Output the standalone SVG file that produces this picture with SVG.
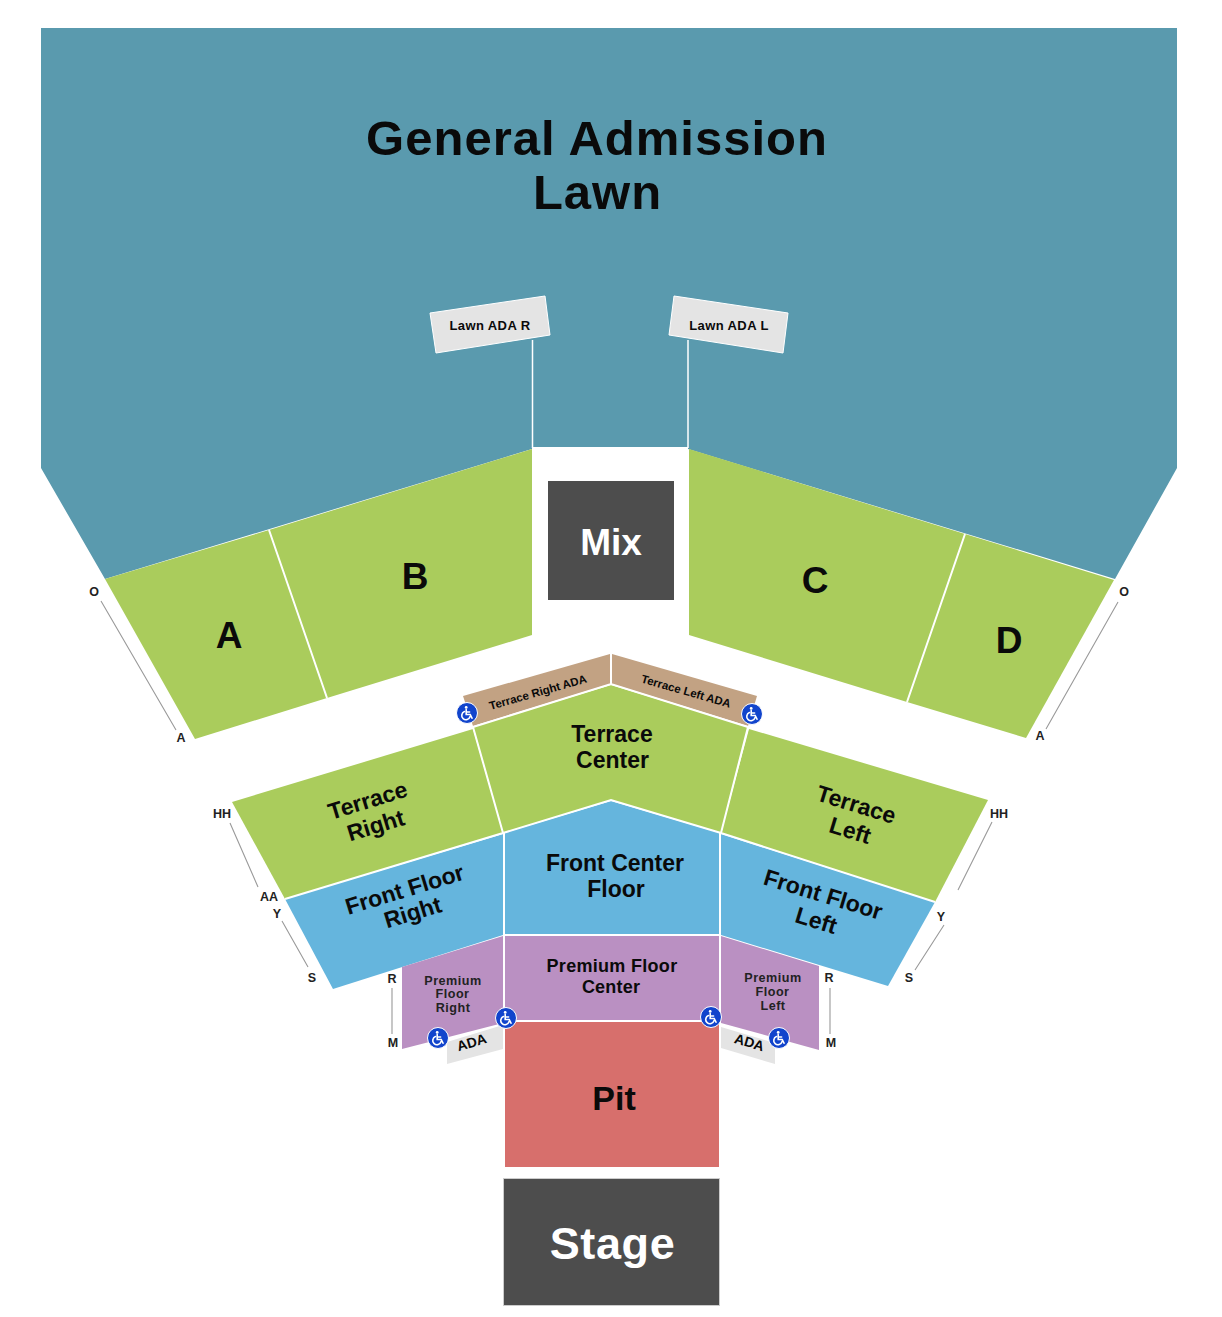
<svg xmlns="http://www.w3.org/2000/svg" width="1222" height="1317" viewBox="0 0 1222 1317">
<style>
text{font-family:"Liberation Sans",Arial,sans-serif;font-weight:700;fill:#0a0a0a;text-anchor:middle}
.lawn{fill:#5a9aae}.green{fill:#aacc5c}.blue{fill:#65b5dd}.purple{fill:#ba90c2}.tan{fill:#c2a283}.grey{fill:#e4e4e4}.dark{fill:#4d4d4d}.red{fill:#d76f6c}
.sep{stroke:#fff;stroke-width:2;fill:none}.edge{stroke:#fff;stroke-width:1.5}
.tick{stroke:#999;stroke-width:1.1;fill:none}
.row{font-size:12.5px;fill:#222}
.small{font-size:12.6px;letter-spacing:.5px;fill:#222}
.wc{fill:#1144cc;stroke:#fff;stroke-width:1}
.wcg{fill:none;stroke:#fff;stroke-width:1.6;stroke-linecap:round}
</style>
<defs>
<g id="wc">
<circle class="wc" r="10.5"/>
<circle cx="-0.8" cy="-5.6" r="1.4" fill="#fff"/>
<path class="wcg" d="M-0.8-3.5V1.5H3.2L5 5.2M-0.8-1H2.6M-2.6-1.4A4.2 4.2 0 1 0 3 3.6"/>
</g>
</defs>
<g id="lawn"><path class="lawn" d="M41 28H1177V468L1115 579 688 449V447H532V449L105 579 41 468Z"/><text x="597" y="155" font-size="49" letter-spacing="1">General Admission</text><text x="597.500" y="209" font-size="49" letter-spacing="1">Lawn</text></g>
<g id="lawn-ada-r"><path class="grey" stroke="#fff" stroke-width="1" d="M430 313 545 296 550 335 436 353Z"/><text x="490" y="330" font-size="13" letter-spacing=".4">Lawn ADA R</text></g>
<g id="lawn-ada-l"><path class="grey" stroke="#fff" stroke-width="1" d="M674 296 788 313 783 353 669 335Z"/><text x="729" y="330" font-size="13" letter-spacing=".4">Lawn ADA L</text></g>
<g id="section-a"><path class="green" d="M105 579 269 530 327 698 195 739Z"/><text x="229" y="648" font-size="37">A</text></g>
<g id="section-b"><path class="green" d="M269 530 532 449V635L327 698Z"/><text x="415" y="589" font-size="37">B</text></g>
<g id="section-c"><path class="green" d="M689 449 965 534 907 702 689 635Z"/><text x="815" y="593" font-size="37">C</text></g>
<g id="section-d"><path class="green" d="M965 534 1114 580 1026 738 907 702Z"/><text x="1009" y="653" font-size="37">D</text></g>
<g id="mix"><rect class="dark" x="548" y="481" width="126" height="119"/><text x="611" y="555" font-size="37" style="fill:#fff">Mix</text></g>
<g id="terrace-right-ada"><path class="tan" d="M463 696 610 654V684L473 726Z"/><text transform="translate(539 696) rotate(-16)" font-size="11.500">Terrace Right ADA</text></g>
<g id="terrace-left-ada"><path class="tan" d="M612 654 757 696 748 726 612 684Z"/><text transform="translate(685 695) rotate(16)" font-size="11.500">Terrace Left ADA</text></g>
<g id="terrace-center"><path class="green" d="M473 727 611 685 748 727 721 833 611 800 503 833Z"/><text x="612" y="742" font-size="23">Terrace</text><text x="612.500" y="768" font-size="23">Center</text></g>
<g id="terrace-right"><path class="green" d="M232 802 473 729 503 833 285 899Z"/><text transform="translate(370 808) rotate(-17)" font-size="23">Terrace</text><text transform="translate(378 833) rotate(-17)" font-size="23">Right</text></g>
<g id="terrace-left"><path class="green" d="M749 729 988 800 935 902 721 833Z"/><text transform="translate(854 812) rotate(17)" font-size="23">Terrace</text><text transform="translate(848 838) rotate(17)" font-size="23">Left</text></g>
<g id="front-center-floor"><path class="blue" d="M504 833 611 801 720 833V934H504Z"/><text x="615" y="871" font-size="23">Front Center</text><text x="616" y="897" font-size="23">Floor</text></g>
<g id="front-floor-right"><path class="blue" d="M285 899 503 834V935L333 989Z"/><text transform="translate(407 897) rotate(-17)" font-size="23">Front Floor</text><text transform="translate(415 920) rotate(-17)" font-size="23">Right</text></g>
<g id="front-floor-left"><path class="blue" d="M721 834 935 902 888 986 721 935Z"/><text transform="translate(821 902) rotate(17)" font-size="23">Front Floor</text><text transform="translate(814 928) rotate(17)" font-size="23">Left</text></g>
<g id="premium-floor-center"><path class="purple" d="M504 935H720V1020H504Z"/><text x="612" y="972" font-size="18" letter-spacing=".3">Premium Floor</text><text x="611" y="993" font-size="18" letter-spacing=".2">Center</text></g>
<g id="premium-floor-right"><path class="purple" d="M402 967 503 936V1023L402 1049Z"/><text class="small" x="453" y="985">Premium</text><text class="small" x="452.500" y="998">Floor</text><text class="small" x="453" y="1012">Right</text></g>
<g id="premium-floor-left"><path class="purple" d="M721 936 819 966V1050L721 1023Z"/><text class="small" x="773" y="982">Premium</text><text class="small" x="772.500" y="996">Floor</text><text class="small" x="773" y="1010">Left</text></g>
<g id="ada-right"><path class="grey" d="M447 1042 503 1025V1049L447 1064Z"/><text transform="translate(473 1047) rotate(-16)" font-size="14">ADA</text></g>
<g id="ada-left"><path class="grey" d="M721 1027 775 1043V1064L721 1048Z"/><text transform="translate(748 1047) rotate(16)" font-size="14">ADA</text></g>
<g id="pit"><rect class="red" x="505" y="1021" width="214" height="146"/><text x="614" y="1110" font-size="34">Pit</text></g>
<g id="stage"><rect class="dark" x="503.500" y="1178.500" width="216" height="127" stroke="#ccc" stroke-width="1"/><text x="612.500" y="1259" font-size="45" letter-spacing=".6" style="fill:#fff">Stage</text></g>
<g id="connectors">
<path class="edge" d="M532.500 340V448M688 340V448"/>
<path class="sep" d="M269 530 327 698M965 534 907 702M473 727 503 833M748 727 721 833M285 899 503 833 611 800 721 833 935 902M504 833V1021M720 833V1021M504 935H720M504 1021H720M611 654V684M473 727 611 684 748 727"/>
<path class="tick" d="M101 601 176 730M1118 602 1046 729M230 823 258 887M282 921 308 967M992 822 958 890M944 925 915 970M392 988V1034M830 988V1034"/>
</g>
<g id="row-labels">
<text class="row" x="94" y="596">O</text><text class="row" x="181" y="742">A</text><text class="row" x="1124" y="596">O</text><text class="row" x="1040" y="740">A</text>
<text class="row" x="222" y="818">HH</text><text class="row" x="269" y="901">AA</text><text class="row" x="277" y="918">Y</text><text class="row" x="312" y="982">S</text>
<text class="row" x="999" y="818">HH</text><text class="row" x="941" y="921">Y</text><text class="row" x="909" y="982">S</text>
<text class="row" x="392" y="983">R</text><text class="row" x="393" y="1047">M</text><text class="row" x="829" y="982">R</text><text class="row" x="831" y="1047">M</text>
</g>
<g id="accessibility">
<use href="#wc" x="467" y="713"/><use href="#wc" x="752" y="714"/><use href="#wc" x="438" y="1038"/><use href="#wc" x="506" y="1018"/><use href="#wc" x="711" y="1017"/><use href="#wc" x="779" y="1038"/>
</g>
</svg>
